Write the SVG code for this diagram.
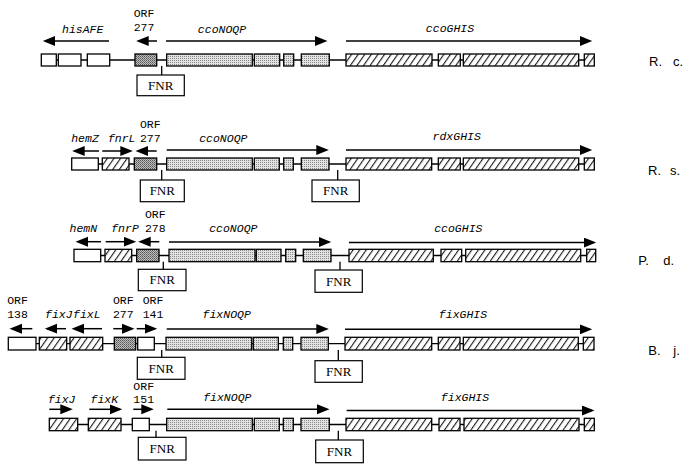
<svg xmlns="http://www.w3.org/2000/svg" width="694" height="472" viewBox="0 0 694 472">
<style>
.bx{stroke:#000;stroke-width:1.3}
.w{fill:#fff}
.s{fill:url(#stip)}
.d{fill:url(#dstip)}
.h{fill:url(#hatch)}
.ln{stroke:#000;stroke-width:1.3;fill:none}
.ar{stroke:#000;stroke-width:1.5;fill:none;marker-end:url(#ah)}
.fn{fill:#fff;stroke:#000;stroke-width:1.2}
.g{font-family:"Liberation Mono","DejaVu Sans Mono",monospace;font-size:11.5px;font-style:italic;text-anchor:middle;fill:#000}
.t{font-family:"Liberation Mono","DejaVu Sans Mono",monospace;font-size:11.5px;text-anchor:middle;fill:#000}
.f{font-family:"Liberation Serif","Times New Roman",serif;font-size:13px;text-anchor:middle;fill:#000}
.sp{font-family:"Liberation Sans",Arial,sans-serif;font-size:13px;fill:#000}
</style>
<defs>
<pattern id="hatch" width="5.4" height="5.4" patternUnits="userSpaceOnUse" patternTransform="rotate(35)">
<rect width="5.4" height="5.4" fill="#fff"/>
<line x1="0.6" y1="0" x2="0.6" y2="5.4" stroke="#000" stroke-width="1"/>
</pattern>
<pattern id="stip" width="2" height="2" patternUnits="userSpaceOnUse">
<rect width="2" height="2" fill="#e2e2e2"/>
<rect width="1" height="1" fill="#8a8a8a"/>
</pattern>
<pattern id="dstip" width="2" height="2" patternUnits="userSpaceOnUse">
<rect width="2" height="2" fill="#bdbdbd"/>
<rect width="1" height="1" fill="#555"/>
<rect x="1" y="1" width="1" height="1" fill="#777"/>
</pattern>
<marker id="ah" markerUnits="userSpaceOnUse" markerWidth="14" markerHeight="11" refX="10" refY="5" orient="auto">
<path d="M0,0 L12.5,5 L0,10 z" fill="#000"/>
</marker>
</defs>

<g id="connectors">
<line class="ln" x1="41" y1="60" x2="594" y2="60"/>
<line class="ln" x1="72" y1="164" x2="594" y2="164"/>
<line class="ln" x1="74" y1="255.5" x2="595.5" y2="255.5"/>
<line class="ln" x1="8.5" y1="343.7" x2="594" y2="343.7"/>
<line class="ln" x1="49.5" y1="424.5" x2="594.3" y2="424.5"/>
<line class="ln" x1="161.7" y1="66" x2="161.7" y2="75"/>
<line class="ln" x1="161.7" y1="170" x2="161.7" y2="180"/>
<line class="ln" x1="337.7" y1="170" x2="337.7" y2="180"/>
<line class="ln" x1="163.3" y1="261.7" x2="163.3" y2="269.3"/>
<line class="ln" x1="340" y1="261.7" x2="340" y2="270"/>
<line class="ln" x1="161.7" y1="350" x2="161.7" y2="357.3"/>
<line class="ln" x1="338.3" y1="350" x2="338.3" y2="360.7"/>
<line class="ln" x1="156" y1="430.7" x2="156" y2="437.3"/>
<line class="ln" x1="338.3" y1="430.7" x2="338.3" y2="440"/>
<line class="ar" x1="109" y1="41" x2="45.3" y2="41"/>
<line class="ar" x1="157" y1="41" x2="138.7" y2="41"/>
<line class="ar" x1="166" y1="41" x2="325" y2="41"/>
<line class="ar" x1="346" y1="41" x2="589.7" y2="41"/>
<line class="ar" x1="99" y1="151" x2="74.7" y2="151"/>
<line class="ar" x1="102.3" y1="151" x2="130.3" y2="151"/>
<line class="ar" x1="156.7" y1="151" x2="138" y2="151"/>
<line class="ar" x1="166.7" y1="150" x2="326.3" y2="150"/>
<line class="ar" x1="346" y1="150" x2="589.7" y2="150"/>
<line class="ar" x1="101" y1="241.7" x2="78" y2="241.7"/>
<line class="ar" x1="105.7" y1="241.7" x2="133.7" y2="241.7"/>
<line class="ar" x1="159.3" y1="241.7" x2="140.7" y2="241.7"/>
<line class="ar" x1="169" y1="242" x2="328.7" y2="242"/>
<line class="ar" x1="349" y1="242.5" x2="593.7" y2="242.5"/>
<line class="ar" x1="32.3" y1="328.7" x2="12" y2="328.7"/>
<line class="ar" x1="66" y1="328.7" x2="47.3" y2="328.7"/>
<line class="ar" x1="102" y1="328.7" x2="74" y2="328.7"/>
<line class="ar" x1="113.3" y1="328.7" x2="132" y2="328.7"/>
<line class="ar" x1="136.7" y1="328.7" x2="154.7" y2="328.7"/>
<line class="ar" x1="166.7" y1="329" x2="326.3" y2="329"/>
<line class="ar" x1="345" y1="329.3" x2="589.7" y2="329.3"/>
<line class="ar" x1="49.3" y1="409.3" x2="70.3" y2="409.3"/>
<line class="ar" x1="89.3" y1="409.3" x2="119.7" y2="409.3"/>
<line class="ar" x1="133.3" y1="409.3" x2="151.3" y2="409.3"/>
<line class="ar" x1="167.3" y1="409.3" x2="327" y2="409.3"/>
<line class="ar" x1="346.7" y1="410.5" x2="592" y2="410.5"/>
</g>

<g id="rc">
<g id="rc-his1"><rect class="bx w" x="41.3" y="54" width="15" height="12"/></g>
<g id="rc-his2"><rect class="bx w" x="58.3" y="54" width="22.7" height="12"/></g>
<g id="rc-his3"><rect class="bx w" x="87.3" y="54" width="22.4" height="12"/></g>
<g id="rc-orf277"><rect class="bx d" x="135" y="54" width="21.7" height="12"/></g>
<g id="rc-ccoN"><rect class="bx s" x="166.7" y="54" width="85.6" height="12"/></g>
<g id="rc-ccoO"><rect class="bx s" x="254.3" y="54" width="25.4" height="12"/></g>
<g id="rc-ccoQ"><rect class="bx s" x="283.7" y="54" width="10" height="12"/></g>
<g id="rc-ccoP"><rect class="bx s" x="301.3" y="54" width="28" height="12"/></g>
<g id="rc-ccoG"><rect class="bx h" x="346" y="54" width="86" height="12"/></g>
<g id="rc-ccoH"><rect class="bx h" x="438.3" y="54" width="22" height="12"/></g>
<g id="rc-ccoI"><rect class="bx h" x="463.3" y="54" width="115.4" height="12"/></g>
<g id="rc-ccoS"><rect class="bx h" x="584.3" y="54" width="10" height="12"/></g>
<g id="rc-fnr"><rect class="fn" x="137" y="75" width="47.3" height="20.7"/><text class="f" x="160.7" y="89.5">FNR</text></g>
<text class="g" x="82.7" y="32.7">hisAFE</text>
<text class="t" x="144" y="16.7">ORF</text>
<text class="t" x="144" y="30.7">277</text>
<text class="g" x="222" y="32.7">ccoNOQP</text>
<text class="g" x="450" y="31.7">ccoGHIS</text>
<text class="sp" x="649" y="65.5">R.</text><text class="sp" x="673" y="65.5">c.</text>
</g>

<g id="rs">
<g id="rs-hemZ"><rect class="bx w" x="71.7" y="158" width="26.6" height="12"/></g>
<g id="rs-fnrL"><rect class="bx h" x="102.3" y="158" width="26.7" height="12"/></g>
<g id="rs-orf277"><rect class="bx d" x="134.3" y="158" width="22.4" height="12"/></g>
<g id="rs-ccoN"><rect class="bx s" x="166.7" y="158" width="85.6" height="12"/></g>
<g id="rs-ccoO"><rect class="bx s" x="254.3" y="158" width="25" height="12"/></g>
<g id="rs-ccoQ"><rect class="bx s" x="283.7" y="158" width="9.6" height="12"/></g>
<g id="rs-ccoP"><rect class="bx s" x="301.3" y="158" width="27.7" height="12"/></g>
<g id="rs-rdxG"><rect class="bx h" x="346" y="158" width="85.7" height="12"/></g>
<g id="rs-rdxH"><rect class="bx h" x="438.3" y="158" width="22" height="12"/></g>
<g id="rs-rdxI"><rect class="bx h" x="463.3" y="158" width="115.4" height="12"/></g>
<g id="rs-rdxS"><rect class="bx h" x="584.3" y="158" width="10" height="12"/></g>
<g id="rs-fnr1"><rect class="fn" x="140.3" y="180" width="44" height="21.7"/><text class="f" x="162.3" y="195">FNR</text></g>
<g id="rs-fnr2"><rect class="fn" x="312" y="180" width="47.3" height="21.7"/><text class="f" x="335.7" y="195">FNR</text></g>
<text class="g" x="85" y="142">hemZ</text>
<text class="g" x="121.7" y="142">fnrL</text>
<text class="t" x="150.3" y="128.3">ORF</text>
<text class="t" x="150.3" y="142">277</text>
<text class="g" x="223.3" y="141.7">ccoNOQP</text>
<text class="g" x="456.7" y="140">rdxGHIS</text>
<text class="sp" x="648" y="174.5">R.</text><text class="sp" x="670" y="174.5">s.</text>
</g>

<g id="pd">
<g id="pd-hemN"><rect class="bx w" x="74" y="249.3" width="26.7" height="12.4"/></g>
<g id="pd-fnrP"><rect class="bx h" x="105" y="249.3" width="26.7" height="12.4"/></g>
<g id="pd-orf278"><rect class="bx d" x="136.7" y="249.3" width="22.3" height="12.4"/></g>
<g id="pd-ccoN"><rect class="bx s" x="169" y="249.3" width="86" height="12.4"/></g>
<g id="pd-ccoO"><rect class="bx s" x="256.3" y="249.3" width="24.7" height="12.4"/></g>
<g id="pd-ccoQ"><rect class="bx s" x="285.7" y="249.3" width="10" height="12.4"/></g>
<g id="pd-ccoP"><rect class="bx s" x="303.3" y="249.3" width="27.7" height="12.4"/></g>
<g id="pd-ccoG"><rect class="bx h" x="349" y="249.3" width="84.3" height="12.4"/></g>
<g id="pd-ccoH"><rect class="bx h" x="441" y="249.3" width="20.7" height="12.4"/></g>
<g id="pd-ccoI"><rect class="bx h" x="465.7" y="249.3" width="115" height="12.4"/></g>
<g id="pd-ccoS"><rect class="bx h" x="586.7" y="249.3" width="9" height="12.4"/></g>
<g id="pd-fnr1"><rect class="fn" x="138.3" y="269.3" width="47.7" height="21.4"/><text class="f" x="162.2" y="284.3">FNR</text></g>
<g id="pd-fnr2"><rect class="fn" x="315" y="270" width="47.3" height="22.3"/><text class="f" x="338.7" y="285.5">FNR</text></g>
<text class="g" x="83.3" y="232.3">hemN</text>
<text class="g" x="125" y="232.3">fnrP</text>
<text class="t" x="155.3" y="218">ORF</text>
<text class="t" x="155.3" y="231.7">278</text>
<text class="g" x="233.3" y="232">ccoNOQP</text>
<text class="g" x="458.3" y="232.3">ccoGHIS</text>
<text class="sp" x="638.3" y="265">P.</text><text class="sp" x="663.3" y="265">d.</text>
</g>

<g id="bj">
<g id="bj-orf138"><rect class="bx w" x="8.3" y="337.3" width="27.7" height="12.7"/></g>
<g id="bj-fixJ"><rect class="bx h" x="39.3" y="337.3" width="27.4" height="12.7"/></g>
<g id="bj-fixL"><rect class="bx h" x="70" y="337.3" width="32.7" height="12.7"/></g>
<g id="bj-orf277"><rect class="bx d" x="114.3" y="337.3" width="21.4" height="12.7"/></g>
<g id="bj-orf141"><rect class="bx w" x="137.7" y="337.3" width="16.6" height="12.7"/></g>
<g id="bj-fixN"><rect class="bx s" x="166" y="337.3" width="85.7" height="12.7"/></g>
<g id="bj-fixO"><rect class="bx s" x="253.3" y="337.3" width="25" height="12.7"/></g>
<g id="bj-fixQ"><rect class="bx s" x="283.3" y="337.3" width="9.4" height="12.7"/></g>
<g id="bj-fixP"><rect class="bx s" x="301" y="337.3" width="27.3" height="12.7"/></g>
<g id="bj-fixG"><rect class="bx h" x="345" y="337.3" width="86.7" height="12.7"/></g>
<g id="bj-fixH"><rect class="bx h" x="438.3" y="337.3" width="21.7" height="12.7"/></g>
<g id="bj-fixI"><rect class="bx h" x="463.3" y="337.3" width="115" height="12.7"/></g>
<g id="bj-fixS"><rect class="bx h" x="583.3" y="337.3" width="10.7" height="12.7"/></g>
<g id="bj-fnr1"><rect class="fn" x="137.3" y="357.3" width="47.7" height="22"/><text class="f" x="161.2" y="372.5">FNR</text></g>
<g id="bj-fnr2"><rect class="fn" x="315" y="360.7" width="47.3" height="21.6"/><text class="f" x="338.7" y="376">FNR</text></g>
<text class="t" x="17.5" y="304.3">ORF</text>
<text class="t" x="17.5" y="317.5">138</text>
<text class="g" x="58.8" y="317.5">fixJ</text>
<text class="g" x="86.8" y="317.5">fixL</text>
<text class="t" x="123.3" y="304.3">ORF</text>
<text class="t" x="123.3" y="317.5">277</text>
<text class="t" x="153" y="304.3">ORF</text>
<text class="t" x="153" y="317.5">141</text>
<text class="g" x="226.7" y="317.5">fixNOQP</text>
<text class="g" x="463" y="318">fixGHIS</text>
<text class="sp" x="648.3" y="355">B.</text><text class="sp" x="673.3" y="355">j.</text>
</g>

<g id="r5">
<g id="r5-fixJ"><rect class="bx h" x="49.3" y="418.3" width="28.4" height="12.4"/></g>
<g id="r5-fixK"><rect class="bx h" x="88.3" y="418.3" width="32.7" height="12.4"/></g>
<g id="r5-orf151"><rect class="bx w" x="132.3" y="418.3" width="17" height="12.4"/></g>
<g id="r5-fixN"><rect class="bx s" x="166.7" y="418.3" width="85.6" height="12.4"/></g>
<g id="r5-fixO"><rect class="bx s" x="254.3" y="418.3" width="25" height="12.4"/></g>
<g id="r5-fixQ"><rect class="bx s" x="283.3" y="418.3" width="10" height="12.4"/></g>
<g id="r5-fixP"><rect class="bx s" x="301" y="418.3" width="28.3" height="12.4"/></g>
<g id="r5-fixG"><rect class="bx h" x="346" y="418.3" width="85.7" height="12.4"/></g>
<g id="r5-fixH"><rect class="bx h" x="439" y="418.3" width="21" height="12.4"/></g>
<g id="r5-fixI"><rect class="bx h" x="464" y="418.3" width="115" height="12.4"/></g>
<g id="r5-fixS"><rect class="bx h" x="584.3" y="418.3" width="10" height="12.4"/></g>
<g id="r5-fnr1"><rect class="fn" x="138.3" y="437.3" width="47.7" height="22.7"/><text class="f" x="162.2" y="453">FNR</text></g>
<g id="r5-fnr2"><rect class="fn" x="315.7" y="440" width="47.6" height="22.7"/><text class="f" x="339.5" y="455.5">FNR</text></g>
<text class="g" x="61.7" y="403">fixJ</text>
<text class="g" x="104.3" y="403">fixK</text>
<text class="t" x="143.7" y="389.5">ORF</text>
<text class="t" x="143.7" y="403">151</text>
<text class="g" x="227.3" y="401">fixNOQP</text>
<text class="g" x="465" y="401">fixGHIS</text>
</g>
</svg>
